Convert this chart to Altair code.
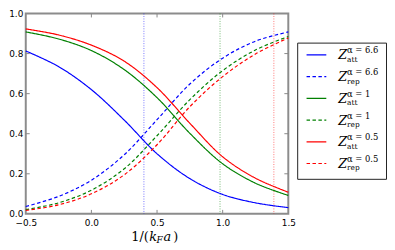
import altair as alt
import pandas as pd

# ---- data ----
x_vals = [-0.5, -0.25, 0.0, 0.25, 0.5, 0.75, 1.0, 1.25, 1.5]
att_66 = [0.813, 0.735, 0.62, 0.468, 0.30, 0.176, 0.097, 0.055, 0.031]
rep_66 = [0.037, 0.087, 0.168, 0.295, 0.47, 0.648, 0.777, 0.862, 0.908]
att_1 = [0.908, 0.873, 0.815, 0.72, 0.58, 0.402, 0.25, 0.153, 0.092]
rep_1 = [0.021, 0.055, 0.118, 0.225, 0.39, 0.57, 0.715, 0.818, 0.885]
att_05 = [0.923, 0.893, 0.842, 0.762, 0.63, 0.452, 0.285, 0.178, 0.108]
rep_05 = [0.017, 0.045, 0.10, 0.195, 0.345, 0.535, 0.685, 0.798, 0.878]

series_names = ["att66", "rep66", "att1", "rep1", "att05", "rep05"]
series_colors = ["#0000ff", "#0000ff", "#008000", "#008000", "#ff0000", "#ff0000"]
series_dashes = [[1, 0], [3.5, 2.5], [1, 0], [3.5, 2.5], [1, 0], [3.5, 2.5]]
legend_sup = ["α = 6.6", "α = 6.6", "α = 1", "α = 1", "α = 0.5", "α = 0.5"]
legend_sub = ["att", "rep", "att", "rep", "att", "rep"]

vline_x = [0.40, 0.98, 1.39]
vline_colors = ["#0000ff", "#008000", "#ff0000"]

x_ticks = [-0.5, 0.0, 0.5, 1.0, 1.5]
y_ticks = [0.0, 0.2, 0.4, 0.6, 0.8, 1.0]

W, H = 266, 203

series_vals = [att_66, rep_66, att_1, rep_1, att_05, rep_05]
rows = []
for name, vals in zip(series_names, series_vals):
    for xv, yv in zip(x_vals, vals):
        rows.append({"x": xv, "value": yv, "series": name})
df = pd.DataFrame(rows)

xscale = alt.Scale(domain=[-0.5, 1.5], nice=False, zero=False)
yscale = alt.Scale(domain=[0, 1], nice=False)
cscale = alt.Scale(domain=series_names, range=series_colors)
dscale = alt.Scale(domain=series_names, range=series_dashes)

lines = alt.Chart(df).mark_line(strokeWidth=1.2, interpolate="catmull-rom").encode(
    x=alt.X("x:Q", scale=xscale,
            axis=alt.Axis(values=x_ticks, format=".1f", title=None, labelFlush=False,
                          labelPadding=5)),
    y=alt.Y("value:Q", scale=yscale,
            axis=alt.Axis(values=y_ticks, format=".1f", title=None, labelPadding=3)),
    color=alt.Color("series:N", scale=cscale, legend=None),
    strokeDash=alt.StrokeDash("series:N", scale=dscale, legend=None),
    detail="series:N",
)

vdf = pd.DataFrame({"vx": vline_x, "c": vline_colors})
vlines = alt.Chart(vdf).mark_rule(strokeWidth=1, strokeDash=[1, 1.5], opacity=0.55).encode(
    x=alt.X("vx:Q", scale=xscale),
    color=alt.Color("c:N", scale=None, legend=None),
)

xt = pd.DataFrame({"v": [0.0, 0.5, 1.0]})
yt = pd.DataFrame({"v": [0.2, 0.4, 0.6, 0.8]})
tick_style = dict(color="#888888", strokeWidth=1)
xt_bot = alt.Chart(xt).mark_rule(**tick_style).encode(
    x=alt.X("v:Q", scale=xscale), y=alt.value(H), y2=alt.value(H - 4))
xt_top = alt.Chart(xt).mark_rule(**tick_style).encode(
    x=alt.X("v:Q", scale=xscale), y=alt.value(0), y2=alt.value(4))
yt_left = alt.Chart(yt).mark_rule(**tick_style).encode(
    y=alt.Y("v:Q", scale=yscale), x=alt.value(0), x2=alt.value(4))
yt_right = alt.Chart(yt).mark_rule(**tick_style).encode(
    y=alt.Y("v:Q", scale=yscale), x=alt.value(W), x2=alt.value(W - 4))

# x-axis title 1/(k_F a), placed at the centre of the x scale
one = pd.DataFrame({"a": [0]})
tfont = "DejaVu Serif"
base_y = H + 27
def ttext(txt, dx, size=13, style="normal", dy=0.0):
    return alt.Chart(one).mark_text(
        text=txt, font=tfont, fontSize=size, fontStyle=style, align="left",
        baseline="alphabetic", dx=dx, color="black"
    ).encode(x=alt.datum(0.5, scale=xscale), y=alt.value(base_y + dy))

title_parts = [
    ttext("1/(", -26),
    ttext("k", -8, style="italic"),
    ttext("F", -0.5, size=9, style="italic", dy=2.5),
    ttext("a", 6.5, style="italic"),
    ttext(")", 16.5),
]

main = alt.layer(vlines, lines, xt_bot, xt_top, yt_left, yt_right, *title_parts)

# ---- legend ----
ldf = pd.DataFrame({"row": list(range(6)), "series": series_names,
                    "sup": legend_sup, "sub": legend_sub})
leg_y = alt.Scale(domain=[0, 5], range=[42, 152])

box = alt.Chart(one).mark_rect(fill="white", stroke="#222222", strokeWidth=1).encode(
    x=alt.value(275.5), x2=alt.value(365.5), y=alt.value(30), y2=alt.value(168))
leg_lines = alt.Chart(ldf).mark_rule(strokeWidth=1.2).encode(
    x=alt.value(284.5), x2=alt.value(304.5),
    y=alt.Y("row:Q", scale=leg_y, axis=None),
    color=alt.Color("series:N", scale=cscale, legend=None),
    strokeDash=alt.StrokeDash("series:N", scale=dscale, legend=None),
)
leg_z = alt.Chart(ldf).mark_text(text="Z", font=tfont, fontSize=13, fontStyle="italic",
                                 align="left", baseline="alphabetic", dy=4.5, color="black").encode(
    x=alt.value(316.5), y=alt.Y("row:Q", scale=leg_y, axis=None))
leg_sup = alt.Chart(ldf).mark_text(font=tfont, fontSize=8.5, align="left",
                                   baseline="alphabetic", dy=-1.5, color="black").encode(
    x=alt.value(325.5), y=alt.Y("row:Q", scale=leg_y, axis=None), text="sup:N")
leg_sub = alt.Chart(ldf).mark_text(font=tfont, fontSize=7.5, align="left",
                                   baseline="alphabetic", dy=7.0, color="black").encode(
    x=alt.value(325.5), y=alt.Y("row:Q", scale=leg_y, axis=None), text="sub:N")

legend = alt.layer(box, leg_lines, leg_z, leg_sup, leg_sub)

chart = alt.layer(main, legend).resolve_scale(y="independent").properties(
    width=W, height=H, padding=0
).configure_view(
    stroke="#8c8c8c", strokeWidth=2
).configure_axis(
    domain=False, ticks=False, grid=False, labelFont="DejaVu Sans", labelFontSize=9,
    labelColor="black"
)

chart.save("out.html", embed_options={"renderer": "svg", "actions": False})
